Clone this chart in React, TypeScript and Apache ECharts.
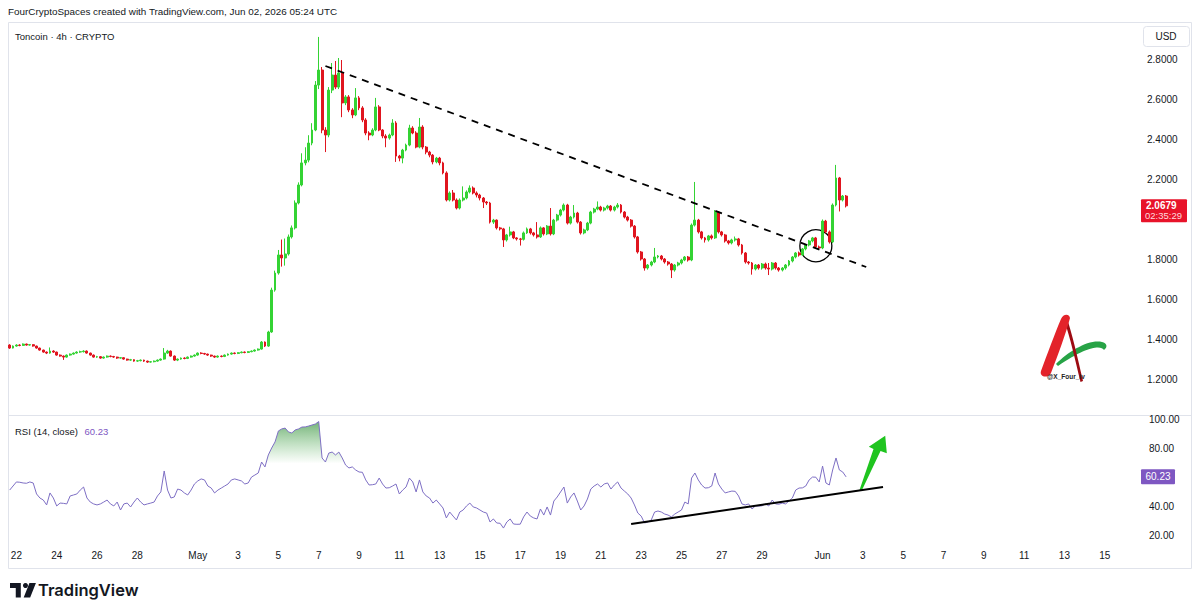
import React, { useEffect, useRef } from "react";
import * as echarts from "echarts";

// ---------- axis / time ----------
const firstSlotUTC = Date.UTC(2026, 3, 21, 16); // Apr 21 16:00, 4h candles
const slotCount = 337;
const tickDates = [
  "2026-04-22", "2026-04-24", "2026-04-26", "2026-04-28", "2026-05-01", "2026-05-03", "2026-05-05",
  "2026-05-07", "2026-05-09", "2026-05-11", "2026-05-13", "2026-05-15", "2026-05-17", "2026-05-19",
  "2026-05-21", "2026-05-23", "2026-05-25", "2026-05-27", "2026-05-29", "2026-06-01", "2026-06-03",
  "2026-06-05", "2026-06-07", "2026-06-09", "2026-06-11", "2026-06-13", "2026-06-15",
];
const tickLabels = [
  "22", "24", "26", "28", "May", "3", "5", "7", "9", "11", "13", "15", "17", "19",
  "21", "23", "25", "27", "29", "Jun", "3", "5", "7", "9", "11", "13", "15",
];
const priceTicks = [1.2, 1.4, 1.6, 1.8, 2.2, 2.4, 2.6, 2.8];
const rsiTicks = [20, 40, 80, 100];
const priceRange = [1.0253, 2.9695];
const rsiRange = [13.08, 103.04];

// ---------- candles: [open, close, low, high] ----------
const candlesLateApril = [
  [1.374, 1.359, 1.355, 1.378], [1.359, 1.369, 1.357, 1.372], [1.369, 1.374, 1.366, 1.378], [1.374, 1.372, 1.368, 1.378],
  [1.372, 1.379, 1.370, 1.382], [1.379, 1.374, 1.371, 1.381], [1.374, 1.376, 1.371, 1.379], [1.376, 1.369, 1.366, 1.378],
  [1.369, 1.359, 1.356, 1.371], [1.359, 1.349, 1.346, 1.361], [1.349, 1.339, 1.336, 1.351], [1.339, 1.334, 1.329, 1.342],
  [1.334, 1.344, 1.331, 1.362], [1.344, 1.339, 1.335, 1.348], [1.339, 1.324, 1.321, 1.341], [1.324, 1.319, 1.316, 1.327],
  [1.319, 1.314, 1.300, 1.322], [1.314, 1.324, 1.311, 1.327], [1.324, 1.329, 1.321, 1.332], [1.329, 1.334, 1.326, 1.337],
  [1.334, 1.339, 1.331, 1.343], [1.339, 1.341, 1.335, 1.346], [1.341, 1.344, 1.337, 1.348], [1.344, 1.334, 1.331, 1.347],
  [1.334, 1.324, 1.321, 1.336], [1.324, 1.314, 1.311, 1.327], [1.314, 1.316, 1.310, 1.320], [1.316, 1.309, 1.306, 1.319],
  [1.309, 1.314, 1.306, 1.317], [1.314, 1.319, 1.311, 1.322], [1.319, 1.317, 1.313, 1.322], [1.317, 1.314, 1.310, 1.320],
  [1.314, 1.309, 1.305, 1.316], [1.309, 1.311, 1.306, 1.314], [1.311, 1.304, 1.301, 1.313], [1.304, 1.299, 1.296, 1.306],
  [1.299, 1.301, 1.295, 1.305], [1.301, 1.294, 1.291, 1.303], [1.294, 1.296, 1.290, 1.300], [1.296, 1.299, 1.293, 1.302],
  [1.299, 1.294, 1.290, 1.301], [1.294, 1.289, 1.285, 1.296], [1.289, 1.291, 1.286, 1.294], [1.291, 1.294, 1.288, 1.297],
  [1.294, 1.299, 1.291, 1.302], [1.299, 1.304, 1.296, 1.307], [1.304, 1.334, 1.301, 1.359], [1.334, 1.344, 1.330, 1.350],
  [1.344, 1.319, 1.316, 1.347], [1.319, 1.299, 1.295, 1.322], [1.299, 1.304, 1.294, 1.307], [1.304, 1.309, 1.301, 1.312],
  [1.309, 1.307, 1.303, 1.313], [1.307, 1.314, 1.304, 1.317], [1.314, 1.319, 1.311, 1.322], [1.319, 1.324, 1.316, 1.327],
  [1.324, 1.334, 1.321, 1.337], [1.334, 1.332, 1.328, 1.338], [1.332, 1.329, 1.325, 1.335], [1.329, 1.324, 1.320, 1.331],
  [1.324, 1.319, 1.315, 1.326], [1.319, 1.314, 1.310, 1.321], [1.314, 1.319, 1.311, 1.322], [1.319, 1.317, 1.313, 1.322],
  [1.317, 1.324, 1.314, 1.327], [1.324, 1.329, 1.321, 1.332], [1.329, 1.334, 1.326, 1.337], [1.334, 1.332, 1.328, 1.337],
  [1.332, 1.336, 1.329, 1.339], [1.336, 1.339, 1.333, 1.342], [1.339, 1.337, 1.333, 1.342], [1.337, 1.341, 1.334, 1.344],
  [1.341, 1.344, 1.338, 1.347], [1.344, 1.349, 1.341, 1.352], [1.349, 1.354, 1.346, 1.357], [1.354, 1.389, 1.351, 1.394],
  [1.389, 1.369, 1.364, 1.392],
];
const candlesMayRally = [
  [1.369, 1.439, 1.365, 1.445], [1.439, 1.648, 1.435, 1.660], [1.648, 1.733, 1.640, 1.745], [1.733, 1.823, 1.725, 1.848],
  [1.823, 1.808, 1.765, 1.900], [1.808, 1.828, 1.770, 1.905], [1.828, 1.913, 1.820, 1.925], [1.913, 1.958, 1.905, 1.970],
  [1.958, 2.082, 1.950, 2.095], [2.082, 2.172, 2.075, 2.185], [2.172, 2.282, 2.165, 2.330], [2.282, 2.296, 2.270, 2.360],
  [2.296, 2.381, 2.285, 2.420], [2.381, 2.446, 2.370, 2.480], [2.446, 2.670, 2.440, 2.690], [2.670, 2.745, 2.650, 2.910],
  [2.745, 2.446, 2.430, 2.760], [2.446, 2.421, 2.336, 2.460], [2.421, 2.645, 2.410, 2.660], [2.645, 2.720, 2.630, 2.780],
  [2.720, 2.660, 2.650, 2.790], [2.660, 2.730, 2.650, 2.805], [2.730, 2.581, 2.510, 2.795], [2.581, 2.611, 2.570, 2.620],
  [2.611, 2.546, 2.535, 2.620], [2.546, 2.521, 2.505, 2.555], [2.521, 2.606, 2.515, 2.655], [2.606, 2.556, 2.545, 2.615],
  [2.556, 2.496, 2.485, 2.565], [2.496, 2.431, 2.420, 2.505], [2.431, 2.421, 2.395, 2.440], [2.421, 2.446, 2.415, 2.455],
  [2.446, 2.561, 2.440, 2.606], [2.561, 2.446, 2.440, 2.570], [2.446, 2.416, 2.405, 2.450], [2.416, 2.406, 2.360, 2.425],
  [2.406, 2.421, 2.398, 2.428], [2.421, 2.481, 2.415, 2.500], [2.481, 2.316, 2.287, 2.490], [2.316, 2.306, 2.290, 2.322],
  [2.306, 2.346, 2.280, 2.352], [2.346, 2.371, 2.340, 2.378], [2.371, 2.456, 2.365, 2.472], [2.456, 2.431, 2.425, 2.465],
  [2.431, 2.361, 2.355, 2.440], [2.361, 2.461, 2.355, 2.506], [2.461, 2.361, 2.350, 2.470], [2.361, 2.336, 2.325, 2.366],
  [2.336, 2.321, 2.310, 2.342], [2.321, 2.287, 2.275, 2.326], [2.287, 2.306, 2.280, 2.312], [2.306, 2.282, 2.270, 2.312],
  [2.282, 2.232, 2.225, 2.288], [2.232, 2.097, 2.090, 2.240], [2.097, 2.132, 2.090, 2.140], [2.132, 2.097, 2.090, 2.147],
  [2.097, 2.057, 2.050, 2.105], [2.057, 2.097, 2.050, 2.105], [2.097, 2.107, 2.090, 2.165], [2.107, 2.137, 2.100, 2.145],
  [2.137, 2.157, 2.130, 2.170], [2.157, 2.132, 2.125, 2.165],
];
const candlesMidMay = [
  [2.132, 2.122, 2.110, 2.140], [2.122, 2.107, 2.095, 2.128], [2.107, 2.087, 2.057, 2.112], [2.087, 2.082, 2.072, 2.092],
  [2.082, 1.987, 1.980, 2.088], [1.987, 1.997, 1.978, 2.003], [1.997, 1.958, 1.950, 2.000], [1.958, 1.953, 1.945, 1.963],
  [1.953, 1.898, 1.863, 1.958], [1.898, 1.923, 1.890, 1.928], [1.923, 1.938, 1.915, 1.964], [1.938, 1.908, 1.902, 1.943],
  [1.908, 1.903, 1.895, 1.912], [1.903, 1.901, 1.870, 1.908], [1.901, 1.933, 1.895, 1.940], [1.933, 1.953, 1.928, 1.960],
  [1.953, 1.933, 1.925, 1.958], [1.933, 1.923, 1.915, 1.938], [1.923, 1.913, 1.905, 1.987], [1.913, 1.958, 1.908, 1.965],
  [1.958, 1.928, 1.920, 1.962], [1.928, 1.967, 1.922, 1.972], [1.967, 1.928, 1.920, 2.057], [1.928, 1.997, 1.922, 2.003],
  [1.997, 2.022, 1.990, 2.028], [2.022, 2.047, 2.015, 2.053], [2.047, 2.072, 2.040, 2.080], [2.072, 1.982, 1.975, 2.078],
  [1.982, 2.012, 1.975, 2.018], [2.012, 2.032, 2.005, 2.072], [2.032, 1.987, 1.980, 2.038], [1.987, 1.933, 1.925, 1.992],
  [1.933, 1.948, 1.926, 1.954], [1.948, 1.982, 1.942, 1.988], [1.982, 2.037, 1.976, 2.043], [2.037, 2.052, 2.030, 2.058],
  [2.052, 2.062, 2.046, 2.090], [2.062, 2.047, 2.040, 2.068], [2.047, 2.057, 2.040, 2.063], [2.057, 2.067, 2.050, 2.073],
  [2.067, 2.047, 2.040, 2.072], [2.047, 2.062, 2.040, 2.068], [2.062, 2.072, 2.055, 2.082], [2.072, 2.037, 2.030, 2.077],
  [2.037, 2.012, 2.005, 2.042], [2.012, 1.997, 1.990, 2.018], [1.997, 1.967, 1.960, 2.002], [1.967, 1.913, 1.905, 1.972],
  [1.913, 1.838, 1.830, 1.918], [1.838, 1.803, 1.795, 1.843], [1.803, 1.758, 1.745, 1.808], [1.758, 1.773, 1.750, 1.778],
  [1.773, 1.788, 1.766, 1.794], [1.788, 1.813, 1.782, 1.858], [1.813, 1.818, 1.806, 1.823], [1.818, 1.803, 1.796, 1.823],
  [1.803, 1.788, 1.780, 1.808], [1.788, 1.778, 1.770, 1.793], [1.778, 1.748, 1.708, 1.783], [1.748, 1.773, 1.740, 1.778],
  [1.773, 1.783, 1.766, 1.789], [1.783, 1.798, 1.776, 1.804], [1.798, 1.813, 1.792, 1.818], [1.813, 1.798, 1.790, 1.818],
];
const candlesLateMay = [
  [1.798, 1.972, 1.792, 1.980], [1.972, 1.997, 1.965, 2.187], [1.997, 1.938, 1.930, 2.003], [1.938, 1.908, 1.900, 1.943],
  [1.908, 1.898, 1.885, 1.913], [1.898, 1.918, 1.890, 1.923], [1.918, 1.908, 1.900, 1.925], [1.908, 2.037, 1.903, 2.047],
  [2.037, 1.938, 1.930, 2.042], [1.938, 1.923, 1.915, 1.943], [1.923, 1.893, 1.885, 1.928], [1.893, 1.883, 1.875, 1.898],
  [1.883, 1.898, 1.876, 1.904], [1.898, 1.903, 1.890, 1.915], [1.903, 1.873, 1.865, 1.908], [1.873, 1.833, 1.825, 1.878],
  [1.833, 1.788, 1.780, 1.838], [1.788, 1.783, 1.775, 1.793], [1.783, 1.753, 1.725, 1.788], [1.753, 1.773, 1.746, 1.778],
  [1.773, 1.758, 1.750, 1.778], [1.758, 1.778, 1.750, 1.783], [1.778, 1.758, 1.750, 1.785], [1.758, 1.753, 1.723, 1.783],
  [1.753, 1.783, 1.746, 1.788], [1.783, 1.758, 1.750, 1.788], [1.758, 1.748, 1.740, 1.763], [1.748, 1.758, 1.741, 1.763],
  [1.758, 1.773, 1.750, 1.778], [1.773, 1.793, 1.766, 1.798], [1.793, 1.813, 1.786, 1.818], [1.813, 1.833, 1.806, 1.838],
  [1.833, 1.823, 1.815, 1.840], [1.823, 1.853, 1.818, 1.858], [1.853, 1.873, 1.846, 1.878], [1.873, 1.893, 1.866, 1.898],
  [1.893, 1.908, 1.886, 1.913], [1.908, 1.863, 1.855, 1.913], [1.863, 1.858, 1.850, 1.870], [1.858, 1.992, 1.852, 2.000],
  [1.992, 1.938, 1.930, 1.998], [1.938, 1.888, 1.880, 1.945], [1.888, 2.072, 1.882, 2.080], [2.072, 2.207, 2.065, 2.272],
  [2.207, 2.097, 2.040, 2.212], [2.097, 2.117, 2.090, 2.122], [2.117, 2.0679, 2.060, 2.122],
];

// ---------- RSI (14, close) ----------
const rsiValues = [
  51.1, 53.9, 56.7, 56.5, 56.0, 55.8, 56.7, 56.0, 48.4, 45.6,
  44.2, 40.8, 49.1, 45.6, 40.1, 42.1, 41.9, 41.5, 47.0, 47.7,
  48.4, 51.1, 53.2, 45.6, 42.8, 41.5, 40.8, 41.5, 42.8, 44.2,
  41.5, 40.1, 42.8, 37.3, 41.5, 42.1, 39.4, 42.8, 45.6, 42.8,
  40.8, 41.5, 42.1, 42.8, 47.0, 49.8, 64.3, 51.1, 45.6, 46.3,
  51.8, 51.1, 49.1, 47.7, 51.1, 55.3, 57.4, 58.8, 58.1, 53.9,
  52.5, 49.1, 51.1, 52.5, 53.9, 55.3, 58.1, 58.8, 58.1, 57.4,
  55.3, 56.0, 60.1, 61.5, 62.9, 70.5, 67.1, 75.4, 80.2, 84.4,
  92.0, 93.4, 94.0, 91.3, 90.6, 92.7, 93.4, 94.7, 94.8, 95.4,
  96.1, 96.8, 98.5, 73.3, 70.5, 76.7, 77.4, 75.4, 77.4, 73.3,
  68.4, 66.4, 67.1, 65.0, 63.6, 63.4, 58.1, 54.6, 54.8, 55.3,
  59.4, 55.3, 52.5, 52.7, 53.9, 55.3, 48.4, 51.1, 53.2, 59.4,
  56.7, 49.8, 58.1, 49.8, 47.0, 45.6, 42.1, 44.2, 41.5, 38.7,
  31.8, 35.9, 33.1, 30.4, 35.9, 37.3, 40.1, 42.1, 39.4, 38.7,
  37.3, 35.9, 35.2, 29.0, 31.1, 28.3, 28.1, 24.8, 29.0, 31.1,
  27.6, 27.4, 27.5, 32.5, 35.9, 33.1, 31.8, 31.1, 38.0, 33.8,
  39.4, 33.8, 43.5, 46.3, 49.8, 53.2, 42.1, 46.3, 49.1, 43.5,
  37.3, 40.1, 44.9, 51.8, 53.9, 55.3, 53.2, 55.3, 56.0, 51.8,
  54.6, 56.7, 52.5, 50.4, 48.4, 45.6, 40.8, 35.2, 33.1, 28.3,
  29.0, 30.4, 35.9, 36.6, 35.9, 34.5, 33.8, 32.5, 34.5, 35.9,
  37.3, 42.8, 41.5, 59.4, 62.9, 58.1, 54.6, 52.5, 52.7, 53.9,
  62.9, 55.3, 51.8, 49.1, 49.8, 50.4, 50.2, 47.0, 41.5, 40.8,
  41.5, 38.0, 40.1, 40.0, 40.2, 41.5, 40.1, 44.2, 41.5, 41.3,
  42.1, 41.5, 43.5, 45.6, 51.1, 52.5, 52.6, 53.9, 58.1, 60.1,
  60.0, 56.7, 67.7, 56.0, 54.6, 65.0, 73.3, 65.0, 63.6, 60.23,
];
const overbought = 70;

// ---------- annotations (data coordinates) ----------
const priceTrendline = [[94, 2.765], [255, 1.763]];
const rsiTrendline = [[185, 27.6], [260, 53.2]];
const breakoutCircle = [240, 1.869];
const arrowTail = [253, 51.1];

const UP = "#34d334";
const DOWN = "#e0151f";
const TEXT = "#131722";
const FONT = "'Liberation Sans', Arial, sans-serif";

let shapesRegistered = false;
function registerShapes() {
  if (shapesRegistered) return;
  shapesRegistered = true;
  echarts.graphic.registerShape(
    "logoRedLeg",
    echarts.graphic.extendPath("M2 58 C8 42 16 20 22 6 C24 1 30 0 31 5 C27 20 19 42 12 60 C9 66 0 64 2 58 Z", {})
  );
  echarts.graphic.registerShape(
    "logoDarkLeg",
    echarts.graphic.extendPath("M28 6 C33 20 38 42 44 68 L41.5 69 C36 46 31 24 26 10 Z", {})
  );
  echarts.graphic.registerShape(
    "logoSwoosh",
    echarts.graphic.extendPath("M17 51 C30 38 50 26 63 29 C68 30 69 34 65 37 C62 32 48 33 19 53 Z", {})
  );
  echarts.graphic.registerShape(
    "tvMark",
    echarts.graphic.extendPath("M0 0 H15 V20 H8 V7 H0 Z M27 0 H36 L28 20 H19 Z", {})
  );
}

export default function App() {
  const ref = useRef<HTMLDivElement>(null);

  useEffect(() => {
    registerShapes();
    const chart = echarts.init(ref.current!, null, { renderer: "svg" });

    const categories: string[] = [];
    for (let i = 0; i < slotCount; i++) {
      const d = new Date(firstSlotUTC + i * 4 * 3600 * 1000);
      categories.push(d.toISOString().slice(0, 16).replace("T", " "));
    }
    const labelMap: Record<string, string> = {};
    tickDates.forEach((d, k) => {
      labelMap[d + " 00:00"] = tickLabels[k];
    });

    const candles = [...candlesLateApril, ...candlesMayRally, ...candlesMidMay, ...candlesLateMay];
    const lastClose = candles[candles.length - 1][1];
    const lastRsi = rsiValues[rsiValues.length - 1];
    const rsiFill = rsiValues.map((v) => (v > overbought ? v : overbought));

    const gridLeft = 8;
    const gridRight = 60;

    chart.setOption({
      animation: false,
      backgroundColor: "#ffffff",
      grid: [
        { left: gridLeft, right: gridRight, top: 25, height: 390 },
        { left: gridLeft, right: gridRight, top: 415, height: 130 },
      ],
      xAxis: [
        {
          type: "category",
          gridIndex: 0,
          data: categories,
          boundaryGap: true,
          axisLine: { show: false },
          axisTick: { show: false },
          axisLabel: { show: false },
          splitLine: { show: false },
        },
        {
          type: "category",
          gridIndex: 1,
          data: categories,
          boundaryGap: true,
          axisLine: { show: false },
          axisTick: { show: false },
          splitLine: { show: false },
          axisLabel: {
            interval: (_i: number, v: string) => !!labelMap[v],
            formatter: (v: string) => labelMap[v] || "",
            color: TEXT,
            fontSize: 10,
            fontFamily: FONT,
            margin: 5,
          },
        },
      ],
      yAxis: [
        {
          type: "value",
          gridIndex: 0,
          position: "right",
          min: priceRange[0],
          max: priceRange[1],
          splitLine: { show: false },
          axisLine: { show: false },
          axisTick: { show: false },
          axisLabel: {
            customValues: priceTicks,
            formatter: (v: number) => v.toFixed(4),
            color: TEXT,
            fontSize: 10,
            fontFamily: FONT,
            margin: 7,
          },
        },
        {
          type: "value",
          gridIndex: 1,
          position: "right",
          min: rsiRange[0],
          max: rsiRange[1],
          splitLine: { show: false },
          axisLine: { show: false },
          axisTick: { show: false },
          axisLabel: {
            customValues: rsiTicks,
            formatter: (v: number) => v.toFixed(2),
            color: TEXT,
            fontSize: 10,
            fontFamily: FONT,
            margin: 9,
          },
        },
      ],
      series: [
        {
          type: "candlestick",
          xAxisIndex: 0,
          yAxisIndex: 0,
          data: candles,
          barWidth: 2.4,
          itemStyle: {
            color: UP,
            color0: DOWN,
            borderColor: UP,
            borderColor0: DOWN,
            borderWidth: 1,
          },
        },
        {
          type: "line",
          xAxisIndex: 0,
          yAxisIndex: 0,
          data: priceTrendline,
          symbol: "none",
          silent: true,
          lineStyle: { color: "#000000", width: 1.8, type: [7, 6] },
        },
        {
          type: "line",
          xAxisIndex: 1,
          yAxisIndex: 1,
          data: rsiFill,
          symbol: "none",
          silent: true,
          lineStyle: { width: 0, opacity: 0 },
          areaStyle: {
            origin: overbought,
            color: new echarts.graphic.LinearGradient(0, 0, 0, 1, [
              { offset: 0, color: "rgba(46,140,52,0.95)" },
              { offset: 1, color: "rgba(76,175,80,0.03)" },
            ]),
          },
        },
        {
          type: "line",
          xAxisIndex: 1,
          yAxisIndex: 1,
          data: rsiValues,
          symbol: "none",
          silent: true,
          lineStyle: { color: "#7e6fc4", width: 1 },
        },
        {
          type: "line",
          xAxisIndex: 1,
          yAxisIndex: 1,
          data: rsiTrendline,
          symbol: "none",
          silent: true,
          lineStyle: { color: "#000000", width: 2 },
        },
      ],
    });

    const priceY = chart.convertToPixel({ yAxisIndex: 0 }, lastClose) as number;
    const rsiY = chart.convertToPixel({ yAxisIndex: 1 }, lastRsi) as number;
    const circ = chart.convertToPixel({ xAxisIndex: 0, yAxisIndex: 0 }, breakoutCircle) as number[];
    const tail = chart.convertToPixel({ xAxisIndex: 1, yAxisIndex: 1 }, arrowTail) as number[];
    const [tx, ty] = tail;

    chart.setOption({
      graphic: [
        // frame
        { type: "rect", silent: true, shape: { x: 8.5, y: 22.5, width: 1183, height: 546 }, style: { fill: "none", stroke: "#e0e3eb", lineWidth: 1 } },
        { type: "line", silent: true, shape: { x1: 8, y1: 415.5, x2: 1192, y2: 415.5 }, style: { stroke: "#e0e3eb", lineWidth: 1 } },
        // header
        { type: "text", left: 8, top: 6, style: { text: "FourCryptoSpaces created with TradingView.com, Jun 02, 2026 05:24 UTC", fill: TEXT, font: `9.9px ${FONT}` } },
        { type: "text", left: 15, top: 31, style: { text: "Toncoin · 4h · CRYPTO", fill: TEXT, font: `9.5px ${FONT}` } },
        {
          type: "text",
          left: 15,
          top: 425,
          style: {
            text: "{a|RSI (14, close)}  {b|" + lastRsi.toFixed(2) + "}",
            rich: {
              a: { fill: TEXT, font: `9.5px ${FONT}` },
              b: { fill: "#7e57c2", font: `9.5px ${FONT}` },
            },
          },
        },
        // USD box
        { type: "rect", silent: true, shape: { x: 1143.5, y: 26.5, width: 46, height: 20, r: 3 }, style: { fill: "#ffffff", stroke: "#e0e3eb", lineWidth: 1 } },
        { type: "text", x: 1166, y: 36.5, style: { text: "USD", fill: TEXT, font: `10px ${FONT}`, align: "center", verticalAlign: "middle" } },
        // last price label
        { type: "rect", silent: true, shape: { x: 1141, y: priceY - 6.5, width: 46, height: 23, r: 1 }, style: { fill: "#e8132a" } },
        { type: "text", x: 1146, y: priceY - 0.5, style: { text: lastClose.toFixed(4), fill: "#ffffff", font: `bold 10px ${FONT}`, verticalAlign: "middle" } },
        { type: "text", x: 1145, y: priceY + 10, style: { text: "02:35:29", fill: "#ffd9dd", font: `9.5px ${FONT}`, verticalAlign: "middle" } },
        // rsi label
        { type: "rect", silent: true, shape: { x: 1141, y: rsiY - 7.5, width: 34, height: 15, r: 1 }, style: { fill: "#7e57c2" } },
        { type: "text", x: 1158, y: rsiY, style: { text: lastRsi.toFixed(2), fill: "#ffffff", font: `10px ${FONT}`, align: "center", verticalAlign: "middle" } },
        // breakout circle
        { type: "circle", silent: true, shape: { cx: circ[0], cy: circ[1], r: 16 }, style: { fill: "none", stroke: "#000000", lineWidth: 1.3 } },
        // green arrow
        {
          type: "polygon",
          silent: true,
          shape: {
            points: [
              [tx, ty], [tx + 14, ty - 41], [tx + 9.3, ty - 43.3], [tx + 25.7, ty - 54.3],
              [tx + 27.3, ty - 36.7], [tx + 21, ty - 39], [tx + 2.5, ty],
            ],
          },
          style: { fill: "#1fc41f" },
        },
        // watermark logo
        {
          type: "group",
          x: 1039,
          y: 313,
          silent: true,
          children: [
            { type: "logoSwoosh", style: { fill: "#27a346" } },
            { type: "logoDarkLeg", style: { fill: "#9d0b12" } },
            { type: "logoRedLeg", style: { fill: "#e3232a" } },
            { type: "text", x: 8, y: 60, style: { text: "@X_Four_iv", fill: "#222222", font: `bold 6.5px ${FONT}` } },
          ],
        },
        // TradingView footer
        { type: "tvMark", x: 10, y: 583, scaleX: 0.72, scaleY: 0.72, silent: true, style: { fill: TEXT } },
        { type: "circle", silent: true, shape: { cx: 10 + 21.5 * 0.72, cy: 583 + 3.5 * 0.72, r: 3.5 * 0.72 }, style: { fill: TEXT } },
        { type: "text", left: 38, top: 581, style: { text: "TradingView", fill: TEXT, font: `600 16.5px Inter, ${FONT}` } },
      ],
    });

    return () => chart.dispose();
  }, []);

  return <div ref={ref} style={{ position: "absolute", left: 0, top: 0, width: 1200, height: 615 }} />;
}
